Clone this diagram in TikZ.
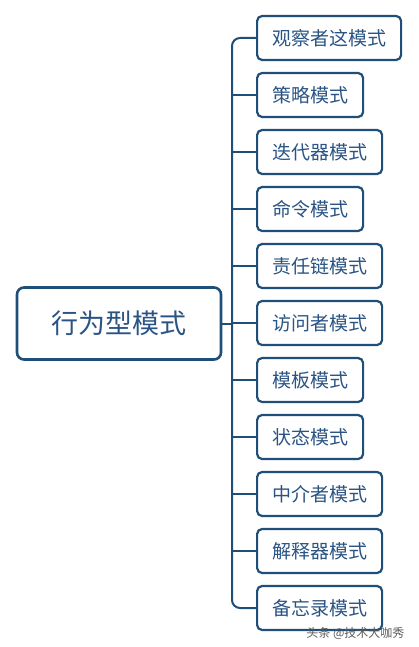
\documentclass[tikz,border=0pt]{standalone}
\usepackage{fontspec}
\setmainfont{Noto Sans CJK SC}
\definecolor{edgeblue}{RGB}{31,78,121}
\definecolor{txtblue}{RGB}{42,84,132}
\begin{document}
\begin{tikzpicture}[x=1pt,y=-1pt,
  leaf/.style={draw=edgeblue, line width=2.2pt, rounded corners=5pt, fill=white,
    anchor=west, minimum height=44pt, inner xsep=15pt, inner ysep=0pt,
    text=txtblue, font=\fontsize{19}{19}\selectfont},
  rootbox/.style={draw=edgeblue, line width=2.6pt, rounded corners=7pt, fill=white,
    minimum width=204pt, minimum height=72pt, text=txtblue,
    font=\fontsize{27}{27}\selectfont},
  conn/.style={draw=edgeblue, line width=2pt}]
\useasboundingbox (0,0) rectangle (418,647);
\node[rootbox] (root) at (119,323.5) {行为型模式};
\node[leaf] (b1) at (256,38) {观察者这模式};
\node[leaf] (b2) at (256,95) {策略模式};
\node[leaf] (b3) at (256,152) {迭代器模式};
\node[leaf] (b4) at (256,209) {命令模式};
\node[leaf] (b5) at (256,266) {责任链模式};
\node[leaf] (b6) at (256,323) {访问者模式};
\node[leaf] (b7) at (256,380) {模板模式};
\node[leaf] (b8) at (256,437) {状态模式};
\node[leaf] (b9) at (256,494) {中介者模式};
\node[leaf] (b10) at (256,551) {解释器模式};
\node[leaf] (b11) at (256,608) {备忘录模式};
\coordinate (trunk) at (232,0);
\begin{scope}[on background layer/.style={}]
\draw[conn, rounded corners=8pt] (b1.west) -- (b1.west -| trunk) -- (b11.west -| trunk) -- (b11.west);
\foreach \i in {2,...,10} {\draw[conn] (b\i.west) -- (b\i.west -| trunk);}
\draw[conn] (root.east) -- (root.east -| trunk);
\end{scope}
\node[text=black!65, font=\fontsize{12}{12}\selectfont, anchor=east] (wm) at (408,633) {头条 @技术大咖秀};
\end{tikzpicture}
\end{document}
